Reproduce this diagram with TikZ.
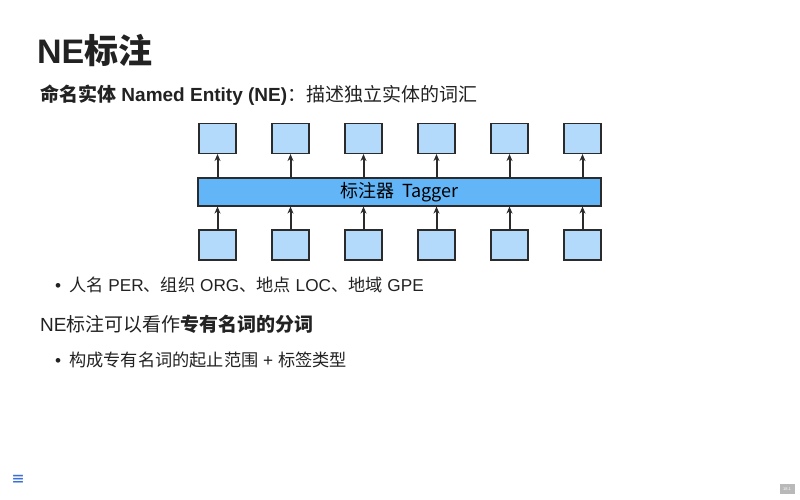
\documentclass[tikz,border=0pt]{standalone}
\usepackage{fontspec}
\setmainfont{Liberation Sans}
\newfontfamily\cjk{Noto Sans CJK SC}
\newcommand{\zh}[1]{{\cjk #1}}
\usetikzlibrary{arrows.meta}
\definecolor{txt}{HTML}{222222}
\definecolor{cellfill}{HTML}{B3D9FB}
\definecolor{barfill}{HTML}{62B5F6}
\definecolor{edge}{HTML}{2B2B2B}
\definecolor{menublue}{HTML}{3A6FD8}
\tikzset{
  cell/.style={draw=edge, line width=1.15pt, fill=cellfill, minimum width=37pt, minimum height=30pt, inner sep=0pt},
  bar/.style={draw=edge, line width=1.15pt, fill=barfill, minimum width=403pt, minimum height=28pt, inner sep=0pt},
  flow/.style={-{Stealth[length=7pt,width=6pt]}, line width=2pt, draw=edge},
  line/.style={anchor=west, inner sep=0pt, text=txt},
}
\begin{document}
\begin{tikzpicture}[x=1pt,y=-1pt]
\useasboundingbox (0,0) rectangle (800,500);
\fill[white] (0,0) rectangle (800,500);

% heading and lead line
\node[line, font=\fontsize{34}{40}\selectfont\bfseries] (title) at (37,50) {NE\zh{\bfseries 标注}};
\node[line, font=\fontsize{19}{22}\selectfont] (lead) at (40,95)
  {\zh{\bfseries 命名实体} \textbf{Named Entity (NE)}\zh{：描述独立实体的词汇}};

% tagger bar with input and output cells
\node[bar] (tagger) at (399.5,192) {\zh{\fontsize{18}{20}\selectfont 标注器\ \ Tagger}};
\foreach \i in {0,...,5}{
  \node[cell] (out\i) at (217.5+73*\i,138.5) {};
  \node[cell] (in\i) at (217.5+73*\i,245) {};
  \draw[flow] (in\i.north) -- (in\i.north |- tagger.south);
  \draw[flow] (out\i.south |- tagger.north) -- (out\i.south);
}

% bullet items
\node[line, font=\fontsize{17.2}{20}\selectfont] (b1) at (55,285)
  {\textbullet\hspace{8pt}\zh{人名} PER\zh{、组织} ORG\zh{、地点} LOC\zh{、地域} GPE};
\node[line, font=\fontsize{19}{22}\selectfont] (sub) at (40,324)
  {NE\zh{标注可以看作\bfseries 专有名词的分词}};
\node[line, font=\fontsize{17.2}{20}\selectfont] (b2) at (55,360)
  {\textbullet\hspace{8pt}\zh{构成专有名词的起止范围} + \zh{标签类型}};

% page controls
\node[text=menublue, font=\fontsize{14}{14}\selectfont\bfseries, inner sep=0pt] (menu) at (18,480) {\zh{≡}};
\node[fill=gray!55, text=white, font=\fontsize{4}{4}\selectfont, minimum width=15pt, minimum height=10pt, inner sep=0pt] (page) at (787,489) {18.1};
\end{tikzpicture}
\end{document}
